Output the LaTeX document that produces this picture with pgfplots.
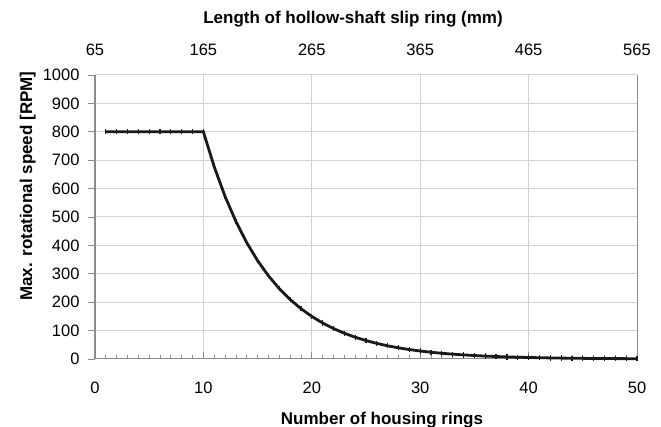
\documentclass[border=0pt]{standalone}
\usepackage{fontspec}
\setmainfont{Liberation Sans}
\usepackage{pgfplots}
\pgfplotsset{compat=1.18}
\definecolor{gridgray}{RGB}{210,210,210}
\definecolor{axgray}{RGB}{140,140,140}
\definecolor{curve}{RGB}{25,25,25}
\begin{document}
\begin{tikzpicture}
\path[use as bounding box] (-95pt,-68pt) rectangle (566pt,359pt);
\begin{axis}[
  scale only axis,
  width=542pt, height=284pt,
  xmin=0, xmax=50, ymin=0, ymax=1000,
  xtick={0,10,...,50}, ytick={0,100,...,1000},
  minor x tick num=9,
  axis lines*=left,
  axis line style={axgray, line width=1pt},
  grid=major,
  major grid style={gridgray, line width=1pt},
  x tick style={axgray, line width=0.8pt},
  y tick style={axgray, line width=0.8pt},
  xtick align=inside, ytick align=outside,
  major tick length=7pt,
  minor tick length=4pt,
  tick label style={font=\fontsize{16.5}{19}\selectfont},
  /pgf/number format/assume math mode=true,
  /pgf/number format/1000 sep={},
  xticklabel style={yshift=-19pt},
  yticklabel style={xshift=-5pt},
  xlabel={\fontsize{17}{20}\selectfont\bfseries Number of housing rings},
  ylabel={\fontsize{17}{20}\selectfont\bfseries Max. rotational speed [RPM]},
  xlabel style={at={(axis description cs:0.5295,-0.229)}, anchor=base},
  ylabel style={at={(axis description cs:-0.116,0.609)}, anchor=base},
  clip=false,
]
\addplot[curve, line width=2.8pt, mark=|, mark size=2.6pt, mark options={line width=1.2pt}] coordinates {
(1,800) (2,800) (3,800) (4,800) (5,800) (6,800) (7,800) (8,800) (9,800) (10,800)
(11,676.6) (12,572.3) (13,484.1) (14,409.4) (15,346.3) (16,292.9) (17,247.7) (18,209.5) (19,177.2) (20,149.9)
(21,126.8) (22,107.2) (23,90.7) (24,76.7) (25,64.9) (26,54.9) (27,46.4) (28,39.3) (29,33.2) (30,28.1)
(31,23.8) (32,20.1) (33,17.0) (34,14.4) (35,12.2) (36,10.3) (37,8.7) (38,7.3) (39,6.2) (40,5.3)
(41,4.5) (42,3.8) (43,3.2) (44,2.7) (45,2.3) (46,1.9) (47,1.6) (48,1.4) (49,1.2) (50,1.0)
};
\draw[axgray, line width=1pt] (rel axis cs:1,0) -- (rel axis cs:1,1);
\end{axis}
\begin{axis}[
  scale only axis,
  width=542pt, height=284pt,
  xmin=65, xmax=565, ymin=0, ymax=1000,
  xtick={65,165,...,565},
  axis x line*=top, axis y line=none,
  axis line style={draw=none},
  major tick length=0pt,
  tick label style={font=\fontsize{16.5}{19}\selectfont},
  /pgf/number format/assume math mode=true,
  xticklabel style={yshift=16pt},
  xlabel={\fontsize{17}{20}\selectfont\bfseries Length of hollow-shaft slip ring (mm)},
  xlabel style={at={(axis description cs:0.476,1.18)}, anchor=base},
]
\end{axis}
\end{tikzpicture}
\end{document}
